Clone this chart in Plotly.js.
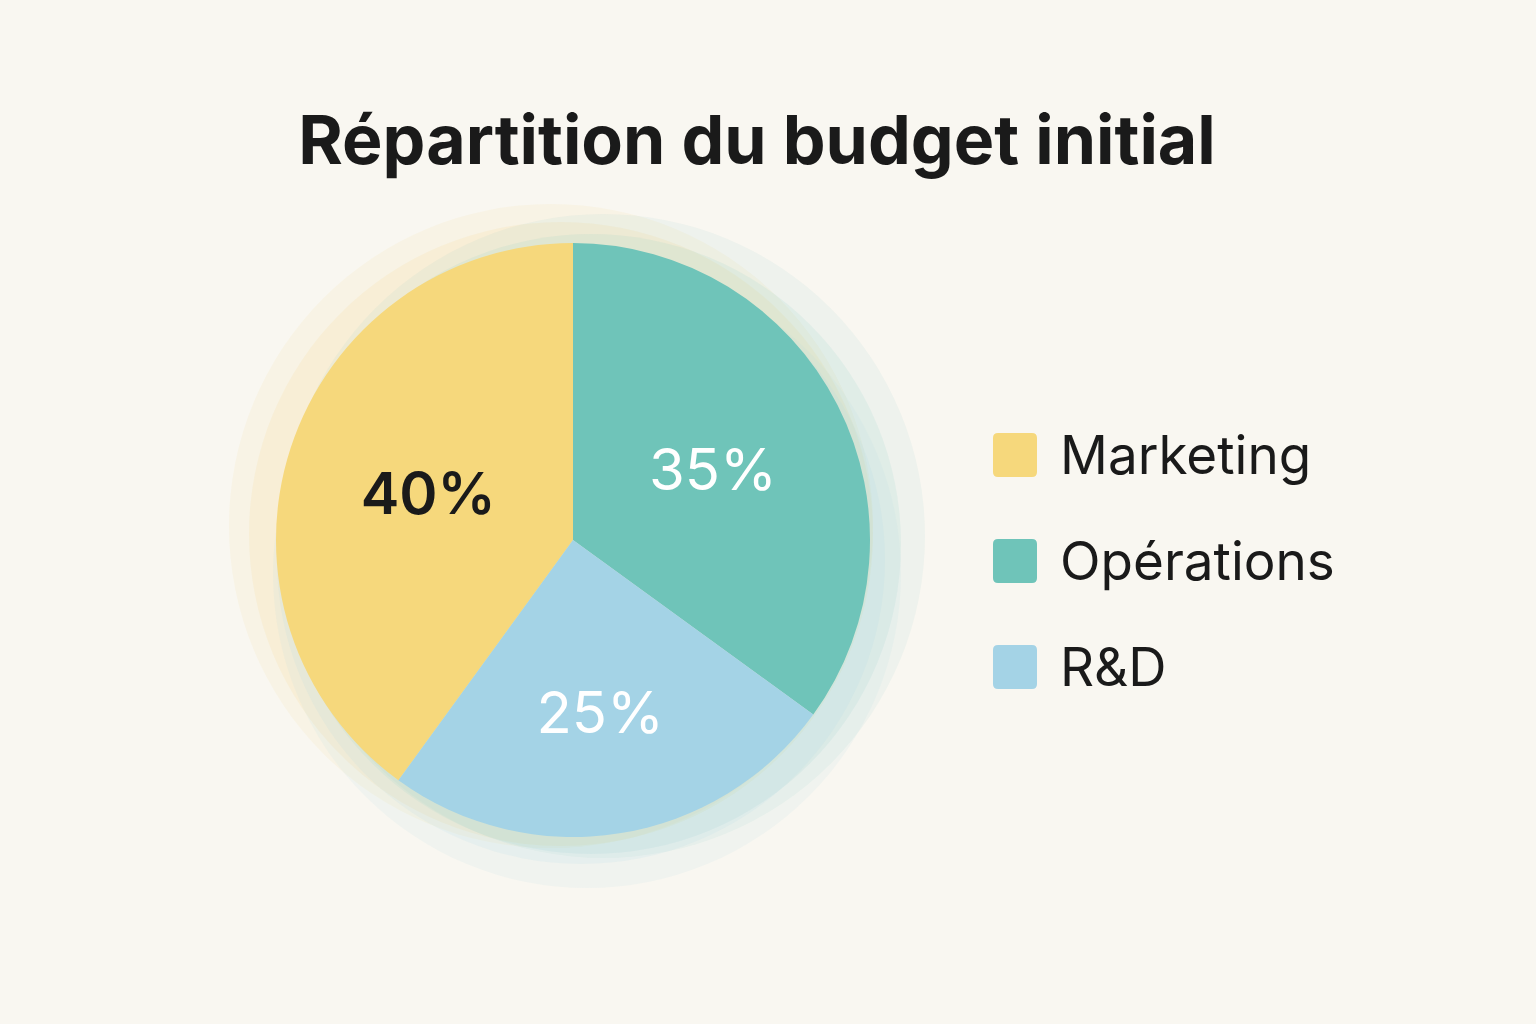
<!DOCTYPE html>
<html>
<head>
<meta charset="utf-8">
<script src="https://cdn.plot.ly/plotly-3.0.1.min.js"></script>
<style>
html,body{margin:0;padding:0;background:#f9f7f1;}
#chart{width:1536px;height:1024px;}
</style>
</head>
<body>
<div id="chart"></div>
<script>
const chartTitle = "Répartition du budget initial";
const categories = ["Marketing", "Opérations", "R&D"];
const shares = [40, 35, 25];
const sliceColors = ["#f6d87c", "#6fc4b9", "#a4d3e6"];
const labelColors = ["#1a1a1a", "#ffffff", "#ffffff"];

const W = 1536, H = 1024;
const cx = 573, cy = 540, R = 297;

const trace = {
  type: "pie",
  labels: categories,
  values: shares,
  sort: false,
  direction: "clockwise",
  rotation: 216,
  marker: {colors: sliceColors, line: {width: 0}},
  texttemplate: "%{value}%",
  textposition: "inside",
  insidetextorientation: "horizontal",
  textfont: {family: "Inter, 'Open Sans', sans-serif", size: 58, color: labelColors, weight: [600, 400, 400]},
  hoverinfo: "label+percent",
  showlegend: false,
  domain: {x: [(cx - R) / W, (cx + R) / W], y: [(H - cy - R) / H, (H - cy + R) / H]}
};

const shapes = [];
const annotations = [];
// soft watercolor halo behind the pie (several faint layers)
const halo = [
  {dx: -22, dy: -14, r: 322, c: "rgba(246,216,124,0.10)"},
  {dx: -12, dy: -6, r: 312, c: "rgba(246,216,124,0.14)"},
  {dx: 30, dy: -4, r: 322, c: "rgba(111,196,185,0.08)"},
  {dx: 18, dy: 4, r: 310, c: "rgba(111,196,185,0.10)"},
  {dx: 14, dy: 34, r: 314, c: "rgba(164,211,230,0.10)"},
  {dx: 8, dy: 20, r: 304, c: "rgba(164,211,230,0.12)"}
];
halo.forEach(h => {
  shapes.push({type: "circle", xref: "paper", yref: "paper", layer: "below",
    x0: (cx + h.dx - h.r) / W, x1: (cx + h.dx + h.r) / W,
    y0: (H - (cy + h.dy) - h.r) / H, y1: (H - (cy + h.dy) + h.r) / H,
    fillcolor: h.c, line: {width: 0}});
});

// custom legend built from the category arrays
const legX0 = 993, legSize = 44, legY0 = 455, legStep = 106, rad = 5;
function roundRectPath(x0, y0, s, r) {
  const X = v => (v / W).toFixed(5), Y = v => ((H - v) / H).toFixed(5);
  return `M${X(x0 + r)},${Y(y0)} L${X(x0 + s - r)},${Y(y0)} Q${X(x0 + s)},${Y(y0)} ${X(x0 + s)},${Y(y0 + r)} ` +
    `L${X(x0 + s)},${Y(y0 + s - r)} Q${X(x0 + s)},${Y(y0 + s)} ${X(x0 + s - r)},${Y(y0 + s)} ` +
    `L${X(x0 + r)},${Y(y0 + s)} Q${X(x0)},${Y(y0 + s)} ${X(x0)},${Y(y0 + s - r)} ` +
    `L${X(x0)},${Y(y0 + r)} Q${X(x0)},${Y(y0)} ${X(x0 + r)},${Y(y0)} Z`;
}
categories.forEach((name, i) => {
  const yc = legY0 + i * legStep;
  shapes.push({type: "path", xref: "paper", yref: "paper",
    path: roundRectPath(legX0, yc - legSize / 2, legSize, rad),
    fillcolor: sliceColors[i], line: {width: 0}});
  annotations.push({xref: "paper", yref: "paper", x: 1058 / W, y: (H - yc) / H,
    xanchor: "left", yanchor: "middle", showarrow: false, text: name,
    font: {family: "Inter, 'Open Sans', sans-serif", size: 53, color: "#1a1a1a"}});
});

const layout = {
  width: W, height: H,
  margin: {l: 0, r: 0, t: 0, b: 0},
  paper_bgcolor: "#f9f7f1",
  plot_bgcolor: "#f9f7f1",
  title: {text: chartTitle, x: 757 / W, xanchor: "center", y: 1 - 140 / H, yanchor: "middle",
    font: {family: "Inter, 'Open Sans', sans-serif", size: 68, weight: 700, color: "#1a1a1a"}},
  shapes: shapes,
  annotations: annotations,
  showlegend: false
};

Plotly.newPlot("chart", [trace], layout, {displayModeBar: false});
</script>
</body>
</html>
